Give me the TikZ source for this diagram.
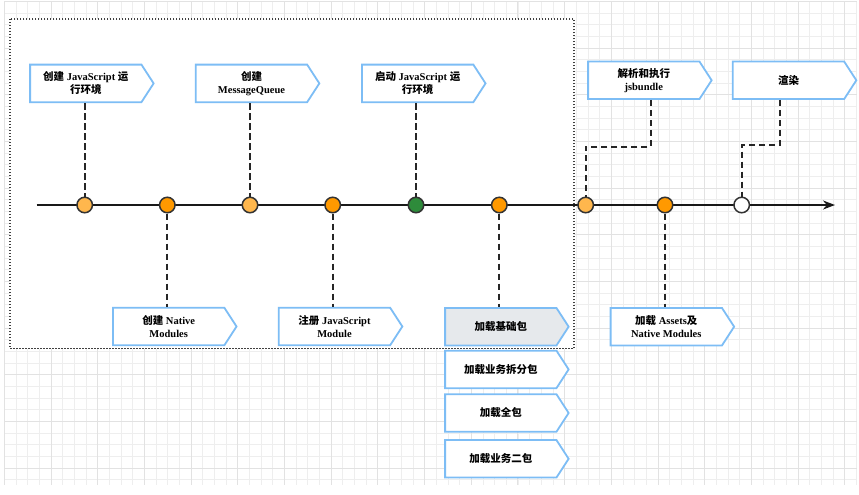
\documentclass[tikz,border=0pt]{standalone}
\usepackage{fontspec}
\setmainfont{Liberation Serif}
\newfontfamily\zhfont{Noto Sans CJK SC}
\newcommand{\zh}[1]{{\zhfont #1}}
\usetikzlibrary{shapes.symbols, arrows.meta, positioning}
\definecolor{boxblue}{HTML}{7DBDF5}
\definecolor{lightorange}{HTML}{FFB74D}
\definecolor{deeporange}{HTML}{FF9900}
\definecolor{dotgreen}{HTML}{2E8B3B}
\definecolor{gridminor}{HTML}{EEEEEE}
\definecolor{gridmajor}{HTML}{E2E2E2}
\definecolor{basegrey}{HTML}{E6E9EC}
\tikzset{
  stage/.style={signal, signal to=east, signal pointer angle=114, draw=boxblue, line width=1.8pt,
    fill=white, minimum width=123.5pt, minimum height=37.5pt, inner sep=2pt, align=center,
    font=\fontsize{10.5}{13}\selectfont\bfseries},
  dot/.style={circle, draw=black!80, line width=1.5pt, minimum size=15.5pt, inner sep=0pt},
  conn/.style={draw=black!85, line width=1.9pt, dash pattern=on 6.5pt off 3.5pt},
}
\begin{document}
\begin{tikzpicture}[x=1pt, y=-1pt]
  \useasboundingbox (0,0) rectangle (859,495);

  % background grid
  \foreach \i in {0,...,73}
    \draw[gridminor, line width=0.9pt] ({4.5+11.67*\i},1.4) -- ({4.5+11.67*\i},485);
  \foreach \j in {0,...,41}
    \draw[gridminor, line width=0.9pt] (4.5,{1.4+11.67*\j}) -- (857,{1.4+11.67*\j});
  \foreach \i in {0,4,...,72}
    \draw[gridmajor, line width=1pt] ({4.5+11.67*\i},1.4) -- ({4.5+11.67*\i},485);
  \foreach \j in {0,4,...,40}
    \draw[gridmajor, line width=1pt] (4.5,{1.4+11.67*\j}) -- (857,{1.4+11.67*\j});

  % init phase frame
  \draw[fill=white, draw=black!75, line width=1.4pt, dash pattern=on 1.3pt off 1.7pt]
    (10,19) rectangle (574,348.7);

  % timeline
  \coordinate (tstart) at (36.7,205);
  \coordinate (tend) at (835,205);
  \draw[line width=2pt, black!90, -{Stealth[length=12pt, width=9pt]}] (tstart) -- (tend);

  % milestones
  \node[dot, fill=lightorange] (p1) at (84.7,205) {};
  \node[dot, fill=deeporange]  (p2) at (167.3,205) {};
  \node[dot, fill=lightorange] (p3) at (250,205) {};
  \node[dot, fill=deeporange]  (p4) at (332.7,205) {};
  \node[dot, fill=dotgreen]    (p5) at (416,205) {};
  \node[dot, fill=deeporange]  (p6) at (499.3,205) {};
  \node[dot, fill=lightorange] (p7) at (585.7,205) {};
  \node[dot, fill=deeporange]  (p8) at (665,205) {};
  \node[dot, fill=white]       (p9) at (741.7,205) {};

  % stages above
  \node[stage] (jsenv)   at (85.8,83.4)   {\zh{创建} JavaScript \zh{运}\\\zh{行环境}};
  \node[stage] (msgq)    at (251.5,83.4)  {\zh{创建}\\MessageQueue};
  \node[stage] (jsstart) at (417.7,83.4)  {\zh{启动} JavaScript \zh{运}\\\zh{行环境}};
  \node[stage] (bundle)  at (643.8,80.3)  {\zh{解析和执行}\\jsbundle};
  \node[stage] (render)  at (788.5,80.3)  {\zh{渲染}};

  % stages below
  \node[stage] (natmod)  at (168.7,326.5) {\zh{创建} Native\\Modules};
  \node[stage] (jsmod)   at (334.5,326.5) {\zh{注册} JavaScript\\Module};
  \node[stage, fill=basegrey] (basepkg) at (500.8,326.7) {\zh{加载基础包}};
  \node[stage] (splitpkg) at (500.8,369.4) {\zh{加载业务拆分包}};
  \node[stage] (fullpkg)  at (500.8,413)   {\zh{加载全包}};
  \node[stage] (secpkg)   at (500.8,458.8) {\zh{加载业务二包}};
  \node[stage] (assets)  at (666.3,326.7) {\zh{加载} Assets\zh{及}\\Native Modules};

  % connectors
  \draw[conn] (jsenv.south -| p1) -- (p1);
  \draw[conn] (msgq.south -| p3) -- (p3);
  \draw[conn] (jsstart.south -| p5) -- (p5);
  \draw[conn] (p2) -- (natmod.north -| p2);
  \draw[conn] (p4) -- (jsmod.north -| p4);
  \draw[conn] (p6) -- (basepkg.north -| p6);
  \draw[conn] (p8) -- (assets.north -| p8);
  \coordinate (kbundle) at (650.7,146.7);
  \coordinate (krender) at (780,145);
  \draw[conn] (bundle.south -| kbundle) -- (kbundle) -| (p7);
  \draw[conn] (render.south -| krender) -- (krender) -| (p9);
\end{tikzpicture}
\end{document}
